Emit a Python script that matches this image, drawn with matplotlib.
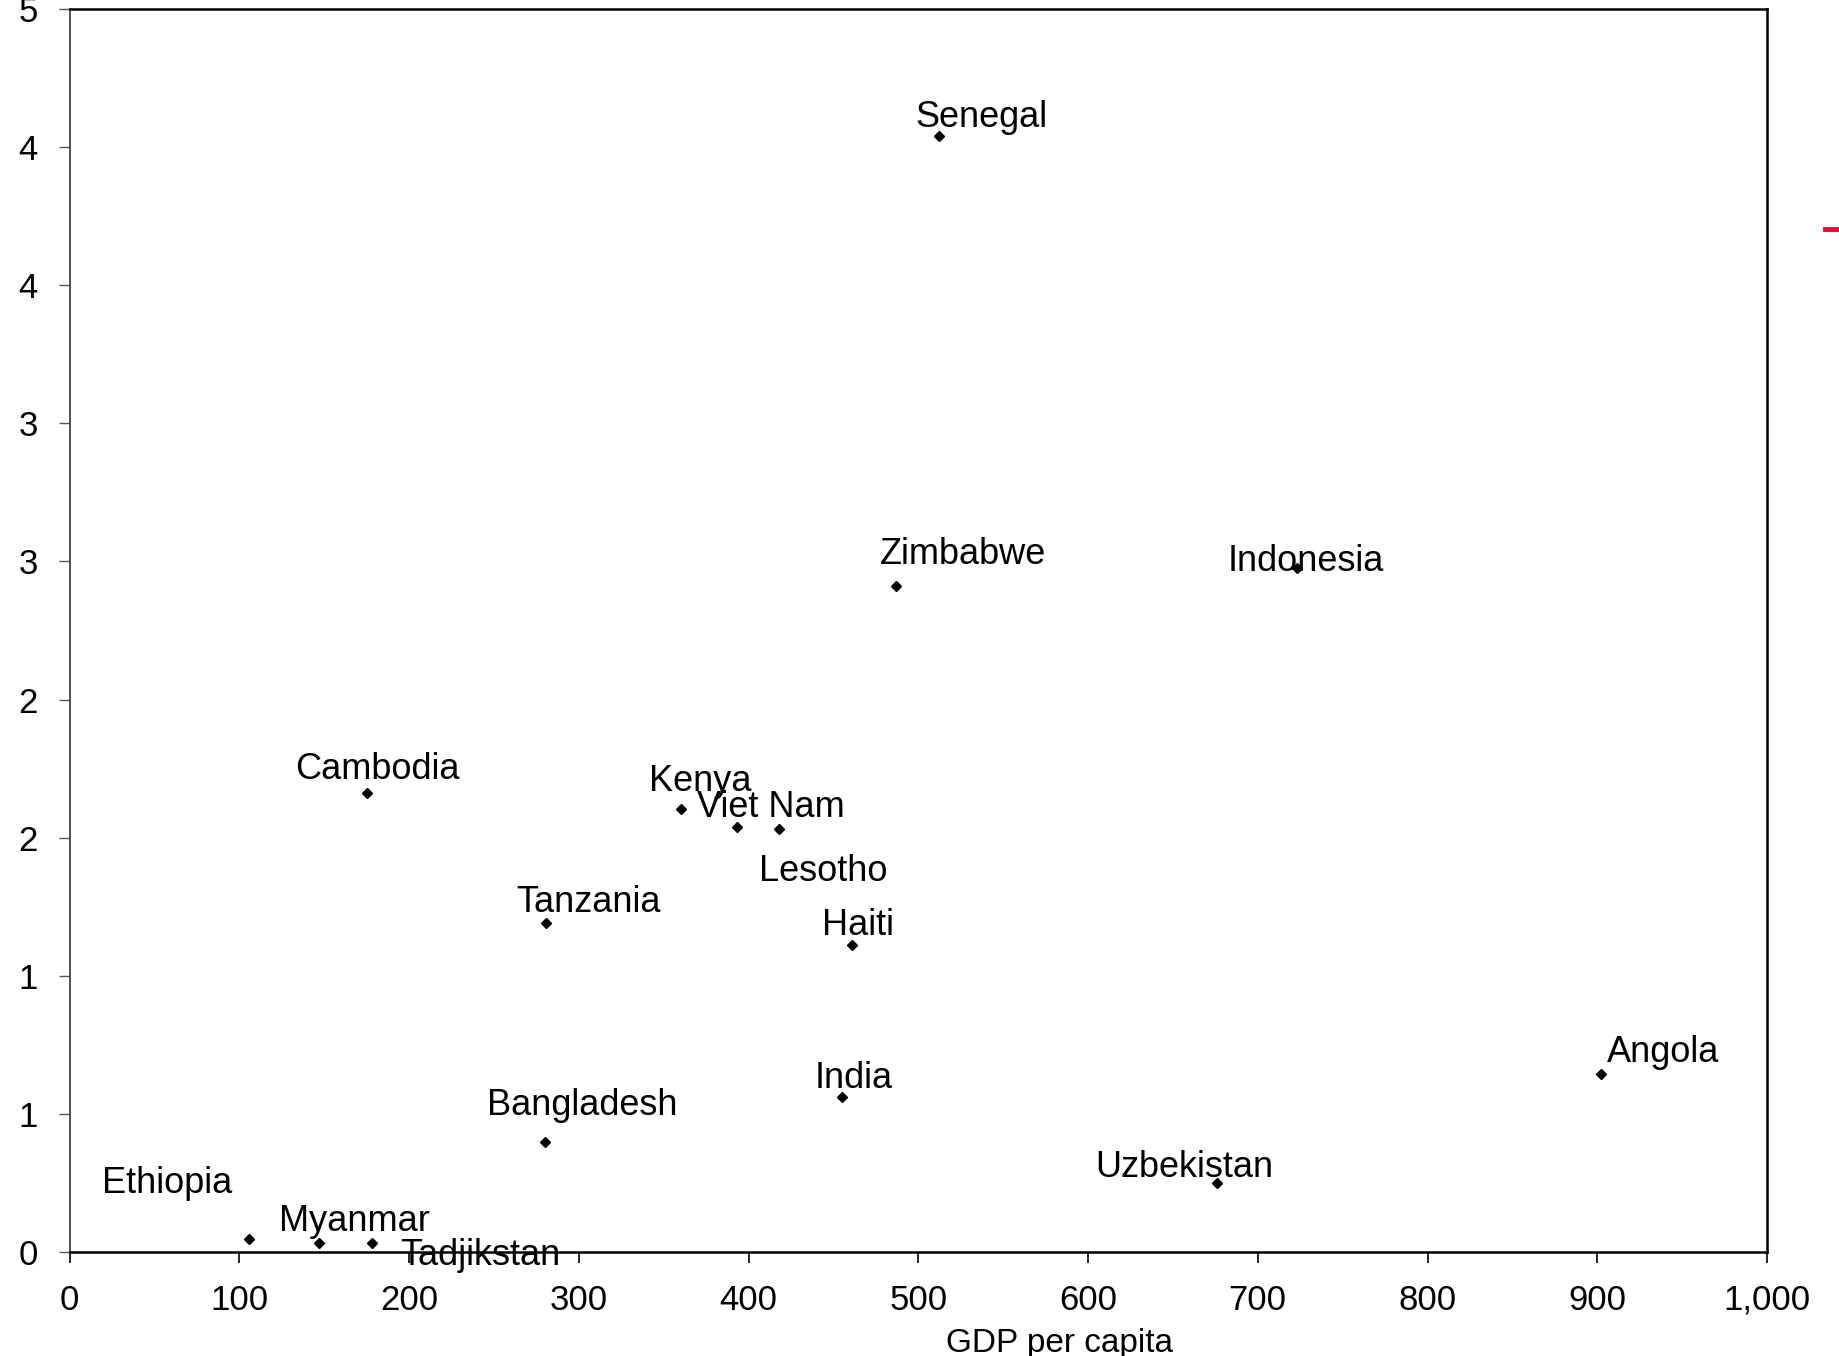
import matplotlib
matplotlib.use("Agg")
import matplotlib.pyplot as plt
from matplotlib.lines import Line2D

plt.rcParams['font.family'] = ['Liberation Sans', 'DejaVu Sans']

countries = ["Senegal", "Zimbabwe", "Indonesia", "Cambodia", "Kenya", "Viet Nam",
             "Lesotho", "Tanzania", "Haiti", "India", "Bangladesh", "Angola",
             "Uzbekistan", "Ethiopia", "Myanmar", "Tadjikstan"]
gdp_per_capita = [512, 487, 723, 175, 360, 393, 418, 281, 461, 455, 280, 902,
                  676, 106, 147, 178]
y_values = [4.04, 2.41, 2.475, 1.66, 1.605, 1.54, 1.53, 1.19, 1.11, 0.56, 0.40,
            0.645, 0.25, 0.047, 0.034, 0.034]

x_ticks = [0, 100, 200, 300, 400, 500, 600, 700, 800, 900, 1000]
x_tick_labels = ["0", "100", "200", "300", "400", "500", "600", "700", "800", "900", "1,000"]
y_ticks = [0, 0.5, 1.0, 1.5, 2.0, 2.5, 3.0, 3.5, 4.0, 4.5]
y_tick_labels = ["0", "1", "1", "2", "2", "3", "3", "4", "4", "5"]
x_label = "GDP per capita"

# label offsets (points) from each marker to the centre of its label
label_offsets = {
    "Senegal": (31.2, 13.5), "Zimbabwe": (48.1, 22.8), "Indonesia": (6.8, 5.1),
    "Cambodia": (7.6, 16.9), "Kenya": (14.4, 19.5), "Viet Nam": (24.5, 13.5),
    "Lesotho": (32.1, -30.4), "Tanzania": (30.4, 15.2), "Haiti": (4.2, 14.4),
    "India": (8.4, 13.5), "Bangladesh": (27.0, 26.2), "Angola": (44.8, 15.2),
    "Uzbekistan": (-23.6, 11.0), "Ethiopia": (-59.1, 39.7), "Myanmar": (25.3, 15.2),
    "Tadjikstan": (78.5, -9.3),
}

W, H, DPI = 1839, 1356, 100
fig = plt.figure(figsize=(W / DPI, H / DPI), dpi=DPI)
fig.patch.set_facecolor("white")
ax = fig.add_axes([69.5 / W, 1 - 1252 / H, (1767 - 69.5) / W, (1252 - 9) / H])

ax.plot(gdp_per_capita, y_values, linestyle="none", marker="D", markersize=5.5,
        color="black", zorder=3)

for name, xv, yv in zip(countries, gdp_per_capita, y_values):
    dx, dy = label_offsets[name]
    ax.annotate(name, (xv, yv), xytext=(dx, dy), textcoords="offset points",
                ha="center", va="center", fontsize=26, color="black",
                annotation_clip=False, zorder=4)

ax.set_xlim(0, 1000)
ax.set_ylim(0, 4.5)
ax.set_xticks(x_ticks)
ax.set_xticklabels(x_tick_labels)
ax.set_yticks(y_ticks)
ax.set_yticklabels(y_tick_labels)
ax.tick_params(axis="x", direction="out", length=8, width=1.2, pad=15, labelsize=25)
ax.tick_params(axis="y", direction="out", length=8, width=1.0, pad=15, labelsize=25,
               color="#555555")

for side in ["top", "right", "bottom"]:
    ax.spines[side].set_linewidth(1.8)
    ax.spines[side].set_color("black")
ax.spines["left"].set_linewidth(1.3)
ax.spines["left"].set_color("#444444")

ax.set_xlabel(x_label, fontsize=24, va="center")
ax.xaxis.set_label_coords((1059 - 69.5) / (1767 - 69.5), -0.0735)

# fragment of a legend entry at the right edge
handle = Line2D([], [], color="#FF0033", linewidth=3.5)
fig.legend([handle], [""], loc="center left", bbox_to_anchor=(1825 / W, 1 - 230 / H),
           frameon=False, borderpad=0, borderaxespad=0, handlelength=3)

fig.savefig("out.png", dpi=DPI, facecolor="white")
